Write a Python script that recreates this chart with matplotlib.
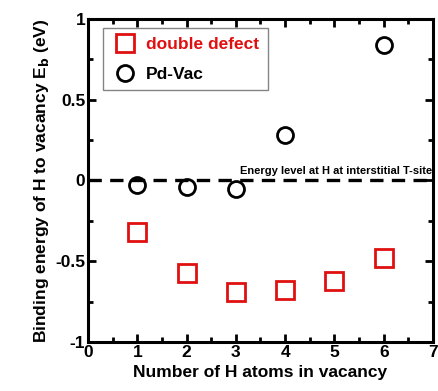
import matplotlib.pyplot as plt
from matplotlib.ticker import MultipleLocator

plt.rcParams['font.family'] = ['Liberation Sans', 'DejaVu Sans']
plt.rcParams['font.weight'] = 'bold'

# Data
n_h = [1, 2, 3, 4, 5, 6]
double_defect = [-0.32, -0.57, -0.69, -0.68, -0.62, -0.48]
n_h_vac = [1, 2, 3, 4, 6]
pd_vac = [-0.03, -0.04, -0.05, 0.28, 0.84]

fig = plt.figure(figsize=(4.39, 3.91), dpi=100)
ax = fig.add_axes([88 / 439, 1 - 342 / 391, 345 / 439, 323 / 391])

ax.axhline(0, color='black', lw=2.4, ls=(0, (4, 2.5)), zorder=1)
ax.text(6.99, 0.025, 'Energy level at H at interstitial T-site', ha='right', va='bottom',
        fontsize=8, fontweight='bold')

ax.plot(n_h, double_defect, ls='none', marker='s', ms=12.5, mfc='none', mec='#e01010',
        mew=2, label='double defect', zorder=3)
ax.plot(n_h_vac, pd_vac, ls='none', marker='o', ms=11.5, mfc='none', mec='black',
        mew=2, label='Pd-Vac', zorder=3)

ax.set_xlim(0, 7)
ax.set_ylim(-1, 1)
ax.xaxis.set_major_locator(MultipleLocator(1))
ax.xaxis.set_minor_locator(MultipleLocator(0.5))
ax.yaxis.set_major_locator(MultipleLocator(0.5))
ax.yaxis.set_minor_locator(MultipleLocator(0.25))
ax.set_yticks([-1, -0.5, 0, 0.5, 1], ['-1', '-0.5', '0', '0.5', '1'])
ax.tick_params(which='both', direction='in', top=True, right=True, labelsize=12.5, width=2)
ax.tick_params(which='major', length=6, pad=2)
ax.tick_params(which='minor', length=3.5)
for s in ax.spines.values():
    s.set_linewidth(2.2)

ax.set_xlabel('Number of H atoms in vacancy', fontsize=12.5, fontweight='bold', labelpad=4)
ax.set_ylabel('Binding energy of H to vacancy E$_\\mathbf{b}$ (eV)', fontsize=12.5,
              fontweight='bold', labelpad=3)

leg = ax.legend(loc='upper left', bbox_to_anchor=(0.043, 0.972), borderaxespad=0,
                fontsize=12.5, frameon=True, fancybox=False, edgecolor='#666666',
                handletextpad=0.4, borderpad=0.5, labelspacing=0.85, handlelength=1.6)
leg.get_frame().set_linewidth(1)
leg.get_texts()[0].set_color('#e01010')

fig.savefig('out.png', dpi=100)
